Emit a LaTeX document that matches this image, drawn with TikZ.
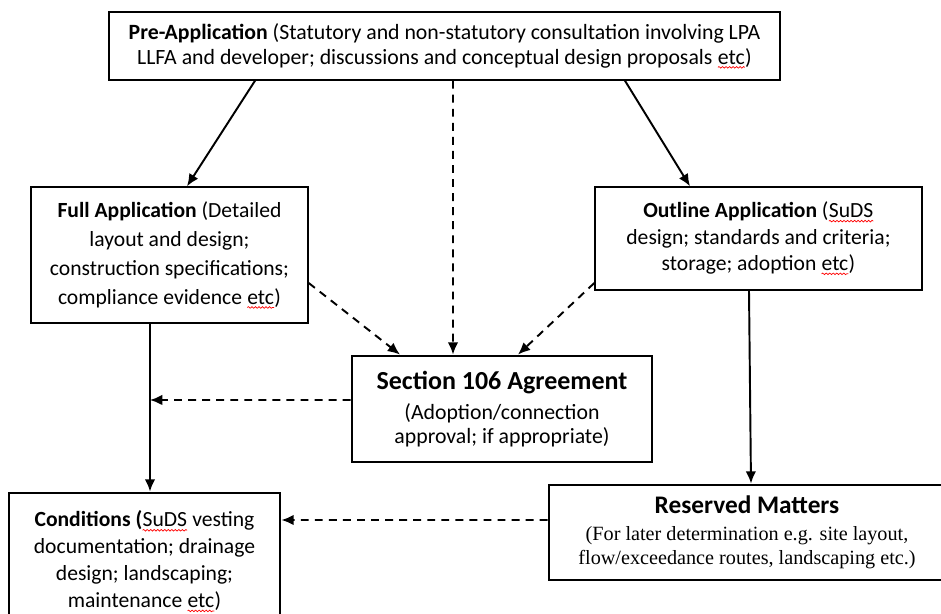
\documentclass[tikz,border=0pt]{standalone}
\usepackage{fontspec}
\setmainfont{Carlito}
\newfontfamily\timesfont{Liberation Serif}
\usetikzlibrary{arrows.meta,decorations.pathmorphing}

% red spell-check squiggle under a word
\newcommand{\spellmark}[1]{\tikz[baseline=(w.base),x=1cm,y=1cm]{\node[draw=none,inner sep=0pt,outer sep=0pt,minimum width=0pt,minimum height=0pt] (w) {#1};
  \draw[red,line width=0.4pt,dash pattern=on 1pt off 0pt,decorate,decoration={snake,amplitude=0.45pt,segment length=2pt}] ([yshift=-1.8pt]w.south west) -- ([yshift=-1.8pt]w.south east);}}

\begin{document}
\begin{tikzpicture}[x=0.02cm,y=-0.02cm,
	box/.style={draw,line width=0.8pt,align=center,inner sep=2pt,font=\fontsize{12.4}{14}\selectfont},
	thickbox/.style={box,line width=1.6pt},
	solidarrow/.style={-{Latex[length=7pt,width=6pt]},line width=1.1pt},
	dasharrow/.style={solidarrow,dash pattern=on 4.5pt off 3.5pt}]
			\useasboundingbox (0,0) rectangle (941,614);
			
			% Draw pre-application box
			\node[box,minimum width=13.42cm,minimum height=1.36cm] (pre) at (444.5,46)
			{\textbf{Pre-Application} (Statutory and non-statutory consultation involving LPA\\LLFA and developer; discussions and conceptual design proposals \spellmark{etc})};
			
			% Draw full and outline application boxes
			\node[box,minimum width=5.54cm,minimum height=2.72cm,font=\fontsize{12.3}{16.5}\selectfont] (full) at (169.5,255)
			{\textbf{Full Application} (Detailed\\layout and design;\\construction specifications;\\compliance evidence \spellmark{etc})};
			\node[box,minimum width=6.54cm,minimum height=2.06cm,font=\fontsize{12.3}{15}\selectfont] (outline) at (758.5,238.5)
			{\textbf{Outline Application} (\spellmark{SuDS}\\design; standards and criteria;\\storage; adoption \spellmark{etc})};
			
			% Draw section 106 box
			\node[thickbox,minimum width=6cm,minimum height=2.12cm] (s106) at (502,409)
			{{\fontsize{14.8}{17}\selectfont\bfseries Section 106 Agreement}\\[3pt](Adoption/connection\\approval; if appropriate)};
			
			% Draw conditions and reserved matters boxes
			\node[thickbox,minimum width=5.42cm,minimum height=2.74cm,font=\fontsize{12.3}{15.3}\selectfont] (cond) at (144.5,561.5)
			{\textbf{Conditions (}\spellmark{SuDS} vesting\\documentation; drainage\\design; landscaping;\\maintenance \spellmark{etc})};
			\node[thickbox,minimum width=7.92cm,minimum height=1.9cm] (reserved) at (747,532.5)
			{{\fontsize{14.4}{16}\selectfont\bfseries Reserved Matters}\\[1pt]
			{\timesfont\fontsize{11.5}{12}\selectfont (For later determination e.g. site layout,}\\
			{\timesfont\fontsize{11.5}{12}\selectfont flow/exceedance routes, landscaping etc.)}};
			
			% Draw solid arrows
			\draw[solidarrow] ([xshift=-3.79cm]pre.south) -- ([xshift=0.35cm]full.north);
			\draw[solidarrow] ([xshift=3.61cm]pre.south) -- ([xshift=-1.37cm]outline.north);
			\draw[solidarrow] ([xshift=-0.39cm]full.south) -- ([xshift=0.11cm]cond.north);
			\draw[solidarrow] ([xshift=-0.19cm]outline.south) -- ([xshift=0.08cm]reserved.north);
			
			% Draw dashed arrows into section 106
			\draw[dasharrow] ([xshift=0.17cm]pre.south) -- ([xshift=-0.98cm]s106.north);
			\draw[dasharrow] ([yshift=-0.56cm]full.east) -- ([xshift=-2.04cm]s106.north);
			\draw[dasharrow] ([yshift=-0.89cm]outline.west) -- ([xshift=0.32cm]s106.north);
			
			% Draw dashed arrows out of section 106 and reserved matters
			\coordinate (join) at (150,400);
			\draw[dasharrow] ([yshift=0.18cm]s106.west) -- (join);
			\draw[dasharrow] ([yshift=0.25cm]reserved.west) -- ([yshift=0.83cm]cond.east);
		\end{tikzpicture}
\end{document}
